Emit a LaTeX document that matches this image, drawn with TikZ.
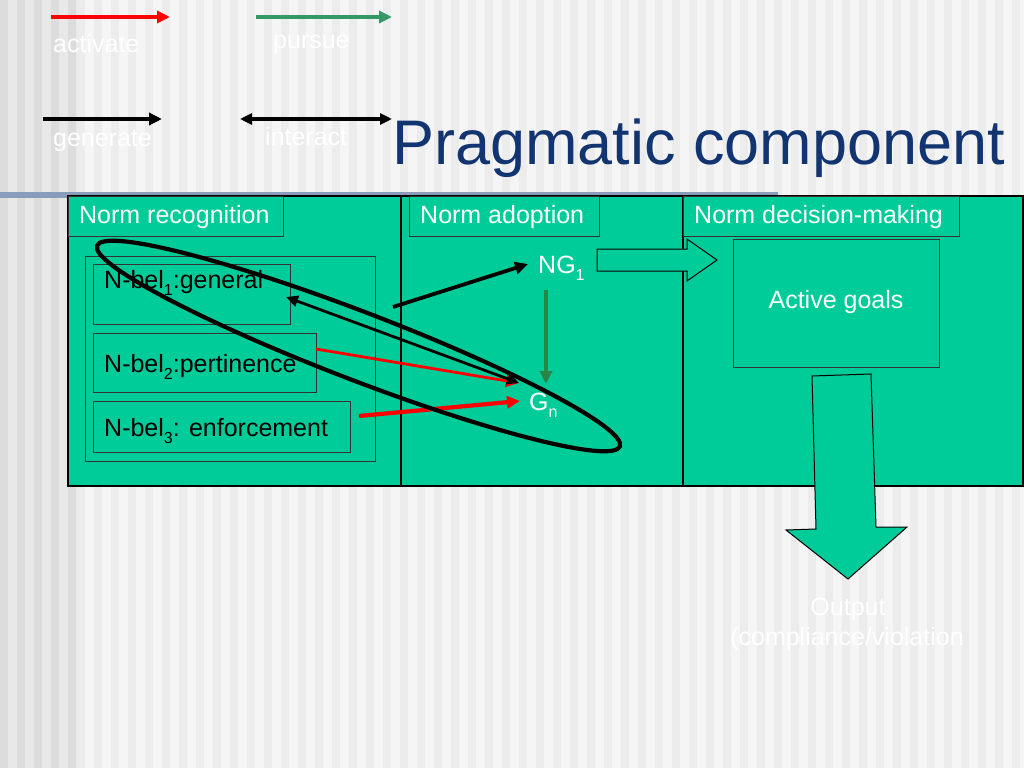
\documentclass[tikz,border=0pt]{standalone}
\usepackage{fontspec}
\setmainfont{Liberation Sans}
\usetikzlibrary{arrows.meta}
\definecolor{slidegreen}{RGB}{0,204,153}
\definecolor{titleblue}{RGB}{18,52,112}
\definecolor{legendgreen}{RGB}{51,153,102}
\definecolor{darkgreen}{RGB}{40,135,70}
\definecolor{barblue}{RGB}{135,157,186}
\definecolor{bgA}{RGB}{245,245,245}
\definecolor{bgB}{RGB}{236,236,236}
\definecolor{bgC}{RGB}{232,232,232}
\definecolor{bgD}{RGB}{220,220,220}
\newcommand\labfont{\fontsize{25bp}{30bp}\selectfont}
\newcommand\slidetitlefont{\fontsize{63bp}{70bp}\selectfont}
\newcommand\sub[1]{\raisebox{-0.28em}{\fontsize{16bp}{18bp}\selectfont #1}}
\tikzset{
  panel/.style={draw=black, line width=1.2bp, fill=slidegreen},
  thinbox/.style={draw=black!80, line width=1bp},
  whitetext/.style={text=white, font=\labfont, inner sep=0pt},
  blacktext/.style={text=black, font=\labfont, inner sep=0pt},
  redarrow/.style={draw=red, line width=3.8bp, -{Triangle[length=13bp,width=12bp]}},
  blackarrow/.style={draw=black, line width=3.8bp, -{Triangle[length=13bp,width=12bp]}},
  greenarrow/.style={draw=legendgreen, line width=3.8bp, -{Triangle[length=13bp,width=12bp]}},
  interarrow/.style={draw=black, line width=2.8bp, {Triangle[length=12bp,width=11bp]}-{Triangle[length=12bp,width=11bp]}},
  blockarrow/.style={draw=black, line width=1bp, fill=slidegreen},
}
\begin{document}
\begin{tikzpicture}[x=1bp,y=-1bp]
\useasboundingbox (0,0) rectangle (1024,768);
% background with vertical stripes
\fill[bgA] (0,0) rectangle (1024,768);
\foreach \i in {77,94,...,1024} \fill[bgB] (\i,0) rectangle (\i+8,768);
\fill[bgC] (0,0) rectangle (77,768);
\foreach \i in {0,17,...,68} \fill[bgD] (\i,0) rectangle (\i+8,768);
% bar under title
\fill[barblue] (0,192) rectangle (778,198);

% legend
\coordinate (la-s) at (51,17);  \coordinate (la-e) at (170,17);
\coordinate (lp-s) at (256,17); \coordinate (lp-e) at (392,17);
\coordinate (lg-s) at (43,119); \coordinate (lg-e) at (162,119);
\coordinate (li-s) at (240,119);\coordinate (li-e) at (392,119);
\draw[redarrow] (la-s) -- (la-e);
\draw[greenarrow] (lp-s) -- (lp-e);
\draw[blackarrow] (lg-s) -- (lg-e);
\draw[interarrow, line width=3.8bp] (li-s) -- (li-e);
\node[whitetext, anchor=base west] (t-act) at (53,53) {activate};
\node[whitetext, anchor=base west] (t-pur) at (273,49) {pursue};
\node[whitetext, anchor=base west] (t-gen) at (53,146) {generate};
\node[whitetext, anchor=base west] (t-int) at (265,145) {interact};

% title
\node[text=titleblue, font=\slidetitlefont, inner sep=0pt, anchor=base west] (title) at (392,164) {Pragmatic component};

% main panel
\draw[panel] (68,196) rectangle (1023,486);
\draw[line width=1.2bp] (401,196) -- (401,486);
\draw[line width=1.2bp] (683,196) -- (683,486);

% header boxes
\node[thinbox, minimum width=215bp, minimum height=40bp, anchor=north west] (h1) at (68,196) {};
\node[thinbox, minimum width=190bp, minimum height=40bp, anchor=north west] (h2) at (409,196) {};
\node[thinbox, minimum width=276bp, minimum height=40bp, anchor=north west] (h3) at (683,196) {};
\node[whitetext, anchor=base west] (h1t) at (79,223) {Norm recognition};
\node[whitetext, anchor=base west] (h2t) at (420,223) {Norm adoption};
\node[whitetext, anchor=base west] (h3t) at (694,223) {Norm decision-making};

% norm recognition content
\node[thinbox, minimum width=290bp, minimum height=205bp, anchor=north west] (inner) at (85,256) {};
\node[thinbox, minimum width=197bp, minimum height=60bp, anchor=north west] (nb1) at (93,264) {};
\node[thinbox, minimum width=223bp, minimum height=59bp, anchor=north west] (nb2) at (93,333) {};
\node[thinbox, minimum width=257bp, minimum height=51bp, anchor=north west] (nb3) at (93,401) {};
\node[blacktext, anchor=base west] (nb1t) at (104,288) {N-bel\sub{1}:general};
\node[blacktext, anchor=base west] (nb2t) at (104,372) {N-bel\sub{2}:pertinence};
\node[blacktext, anchor=base west] (nb3t) at (104,436) {N-bel\sub{3}: enforcement};

% norm adoption content
\node[whitetext, anchor=base west] (ng1) at (538,273) {NG\sub{1}};
\node[whitetext, anchor=base west] (gn) at (529,410) {G\sub{n}};

% decision-making content
\node[thinbox, minimum width=206bp, minimum height=128bp, anchor=north west] (goals) at (733,239) {};
\node[whitetext] (goalst) at (836,302) {Active goals};

% block arrows
\draw[blockarrow] (597,249) -- (687,249) -- (687,239) -- (717,260) -- (687,281) -- (687,271) -- (597,271) -- cycle;
\draw[blockarrow] (812,376) -- (871,374) -- (876,527) -- (907,527) -- (848,579) -- (786,530) -- (816,529) -- cycle;
\node[whitetext, anchor=base] (out1) at (848,615) {Output};
\node[whitetext, anchor=base] (out2) at (847,645) {(compliance/violation};

% connectors
\coordinate (gen-s) at (393,307);   \coordinate (gen-e) at (528,264);
\coordinate (pur-s) at (546,290);   \coordinate (pur-e) at (546,384);
\coordinate (r1-s) at (316,349);    \coordinate (r1-e) at (519,383);
\coordinate (r2-s) at (359,416);    \coordinate (r2-e) at (520,401);
\coordinate (in-s) at (519,383);    \coordinate (in-e) at (286,297);
\draw[blackarrow] (gen-s) -- (gen-e);
\draw[greenarrow, draw=darkgreen] (pur-s) -- (pur-e);
\draw[redarrow, line width=2.8bp] (r1-s) -- (r1-e);
\draw[redarrow, line width=4.2bp] (r2-s) -- (r2-e);
\draw[interarrow] (in-s) -- (in-e);

% ellipse
\draw[line width=4.2bp] (358.5,346) ellipse [x radius=280, y radius=34, rotate=-21];
\end{tikzpicture}
\end{document}
